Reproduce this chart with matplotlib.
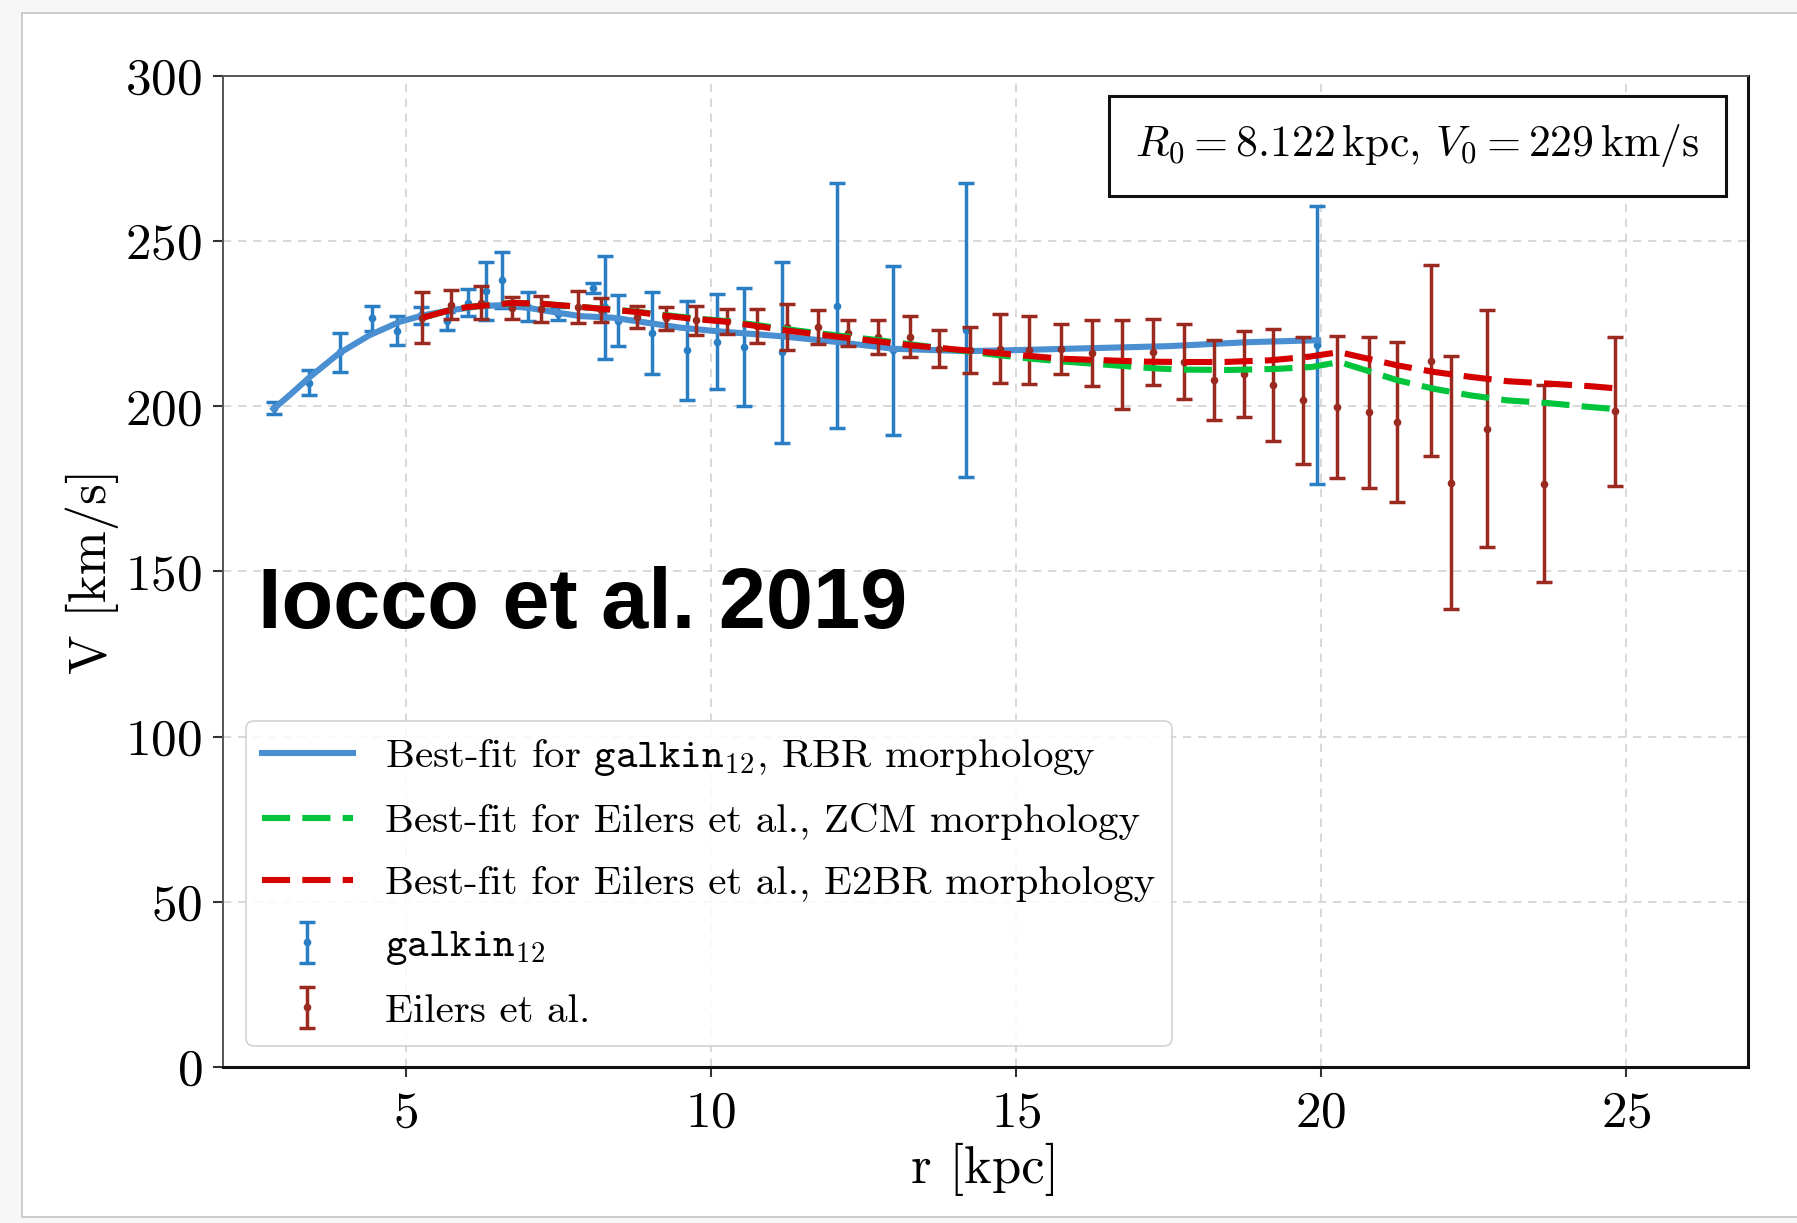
import matplotlib
matplotlib.use("Agg")
import matplotlib.pyplot as plt
from matplotlib.patches import Rectangle

plt.rcParams['font.family'] = 'cmr10'
plt.rcParams['mathtext.fontset'] = 'cm'
plt.rcParams['axes.formatter.use_mathtext'] = True

# galkin_12 compilation
r_galkin = [2.83, 3.41, 3.91, 4.44, 4.85, 5.25, 5.68, 6.01, 6.31, 6.57, 7.00, 7.50,
            8.07, 8.27, 8.48, 9.03, 9.60, 10.10, 10.54, 11.16, 12.07, 12.98, 14.18, 19.94]
v_galkin = [199.5, 207.1, 216.4, 226.7, 222.9, 227.5, 225.8, 231.4, 234.8, 238.2, 230.2, 228.0,
            235.8, 230.0, 225.9, 222.2, 216.9, 219.6, 218.0, 216.4, 230.5, 216.9, 223.0, 218.5]
e_galkin = [1.8, 3.8, 5.9, 3.8, 4.5, 2.5, 2.6, 4.2, 8.8, 8.5, 4.5, 2.0,
            1.5, 15.6, 7.7, 12.5, 15.0, 14.4, 17.8, 27.4, 37.0, 25.7, 44.5, 42.0]

# Eilers et al. rotation curve
r_eilers = [5.27, 5.74, 6.23, 6.73, 7.22, 7.82, 8.19, 8.78, 9.27, 9.76, 10.26, 10.75, 11.25,
            11.75, 12.25, 12.74, 13.26, 13.74, 14.24, 14.74, 15.22, 15.74, 16.24, 16.74, 17.25,
            17.75, 18.24, 18.74, 19.22, 19.71, 20.27, 20.78, 21.24, 21.80, 22.14, 22.73, 23.66, 24.82]
v_eilers = [226.8, 230.8, 231.3, 229.7, 229.5, 230.0, 229.1, 227.0, 226.6, 226.0, 225.8, 224.3, 224.0,
            224.0, 222.2, 221.0, 221.0, 217.4, 217.0, 217.4, 217.0, 217.4, 216.1, 212.7, 216.4,
            213.5, 207.9, 209.8, 206.4, 201.8, 199.8, 198.2, 195.3, 213.8, 176.9, 193.2, 176.6, 198.5]
e_eilers = [7.7, 4.3, 5.0, 3.3, 3.9, 4.9, 3.6, 3.4, 3.5, 4.3, 3.8, 5.2, 7.0,
            5.0, 3.9, 5.2, 6.2, 5.6, 7.0, 10.4, 10.2, 7.6, 10.0, 13.5, 10.0,
            11.3, 12.2, 12.9, 17.0, 19.3, 21.4, 22.9, 24.3, 29.0, 38.2, 35.9, 29.7, 22.6]

# best-fit curves
r_rbr = [2.83, 3.1, 3.4, 3.9, 4.4, 4.9, 5.3, 5.7, 6.2, 6.55, 7.0, 7.4, 7.85, 8.4, 8.95, 9.5,
         10.05, 10.6, 11.15, 12.05, 13.0, 14.2, 15.0, 16.25, 17.5, 18.8, 19.95]
v_rbr = [199.2, 203.5, 208.5, 216.0, 221.5, 225.6, 227.6, 229.0, 230.3, 230.6, 229.8, 228.6,
         227.3, 226.8, 225.3, 223.8, 222.8, 222.0, 221.2, 219.5, 217.4, 216.7, 217.0, 217.6,
         218.2, 219.4, 220.0]

r_e2br = [5.27, 5.7, 6.0, 6.75, 7.25, 7.85, 8.75, 9.25, 9.75, 10.25, 10.75, 11.25, 12.0, 12.75,
          13.25, 14.25, 14.7, 15.25, 15.75, 16.5, 17.15, 17.75, 18.4, 19.15, 19.8, 20.3, 20.65,
          21.25, 21.85, 22.45, 23.05, 23.7, 24.4, 24.85]
v_e2br = [226.8, 229.0, 230.0, 231.3, 231.0, 230.1, 228.6, 227.4, 226.4, 225.6, 224.3, 222.9,
          221.2, 219.6, 218.5, 216.8, 216.1, 215.2, 214.4, 213.9, 213.5, 213.4, 213.4, 213.9,
          215.0, 216.4, 214.9, 212.4, 210.4, 208.9, 207.6, 206.9, 206.1, 205.4]

r_zcm = [5.27, 5.7, 6.0, 6.75, 7.25, 7.85, 8.75, 9.25, 9.75, 10.25, 10.75, 11.25, 12.0, 12.75,
         13.25, 14.25, 14.7, 15.25, 15.75, 16.25, 16.75, 17.25, 17.75, 18.5, 19.25, 19.85, 20.3,
         20.65, 21.25, 21.85, 22.45, 23.05, 23.7, 24.4, 24.85]
v_zcm = [226.8, 229.0, 230.0, 231.3, 231.0, 230.1, 228.7, 227.6, 226.6, 225.8, 224.6, 223.3,
         221.6, 220.0, 218.8, 216.5, 215.5, 214.4, 213.6, 212.9, 212.2, 211.5, 211.1, 211.0,
         211.3, 211.9, 213.4, 211.4, 207.9, 205.3, 203.3, 201.8, 201.0, 199.8, 199.1]

c_galkin = '#2a7fc4'
c_rbr = '#4a8fd2'
c_eilers = '#9a2a1f'
c_zcm = '#00c43c'
c_e2br = '#d40000'

fig = plt.figure(figsize=(17.97, 12.23), dpi=100)
fig.patch.set_facecolor('#f7f7f7')
fig.patches.append(Rectangle((22, 6), 1797, 1204, transform=None, facecolor='white',
                             edgecolor='#c4c4c4', linewidth=1.2, zorder=-10))

ax = fig.add_axes([0.1241, 0.1276, 0.8486, 0.8103])

eb_g = ax.errorbar(r_galkin, v_galkin, yerr=e_galkin, fmt='o', color=c_galkin, ms=4.5,
                   elinewidth=2.5, capsize=5.5, capthick=2.5, zorder=2)
line_rbr, = ax.plot(r_rbr, v_rbr, '-', color=c_rbr, lw=4.4, zorder=3)
eb_e = ax.errorbar(r_eilers, v_eilers, yerr=e_eilers, fmt='o', color=c_eilers, ms=4.5,
                   elinewidth=2.5, capsize=5.5, capthick=2.5, zorder=4)
line_zcm, = ax.plot(r_zcm, v_zcm, '--', color=c_zcm, lw=4.4, dashes=(4.6, 2.0), zorder=5)
line_e2br, = ax.plot(r_e2br, v_e2br, '--', color=c_e2br, lw=4.4, dashes=(4.6, 2.0), zorder=6)

ax.set_xlim(2, 27)
ax.set_ylim(0, 300)
ax.set_xticks([5, 10, 15, 20, 25])
ax.set_yticks([0, 50, 100, 150, 200, 250, 300])
ax.tick_params(axis='both', labelsize=37, length=7, width=1.5, color='#333')
ax.tick_params(axis='x', pad=10)
ax.tick_params(axis='y', pad=8)
ax.grid(True, linestyle=(0, (5, 4)), color='#d2d2d2', linewidth=1.2)
ax.set_axisbelow(True)

for side in ['top', 'left']:
    ax.spines[side].set_color('#555555')
    ax.spines[side].set_linewidth(1.4)
for side in ['bottom', 'right']:
    ax.spines[side].set_color('#111111')
    ax.spines[side].set_linewidth(2.2)

ax.set_xlabel('r [kpc]', fontsize=38)
ax.set_ylabel('V [km/s]', fontsize=38)
ax.xaxis.set_label_coords(0.5, -0.077)
ax.yaxis.set_label_coords(-0.068, 0.5)

ax.text(0.7833, 0.9294, r'$R_0 = 8.122\,\mathrm{kpc}$, $V_0 = 229\,\mathrm{km/s}$',
        transform=ax.transAxes, ha='center', va='center', fontsize=31.5,
        bbox=dict(boxstyle='square,pad=0.6', facecolor='white', edgecolor='#111111',
                  linewidth=2.2))

handles = [line_rbr, line_zcm, line_e2br, eb_g, eb_e]
labels = [r'Best-fit for $\mathtt{galkin}_{12}$, RBR morphology',
          'Best-fit for Eilers et al., ZCM morphology',
          'Best-fit for Eilers et al., E2BR morphology',
          r'$\mathtt{galkin}_{12}$',
          'Eilers et al.']
leg = ax.legend(handles, labels, loc='lower left', bbox_to_anchor=(0.0151, 0.0212),
                borderaxespad=0, fontsize=29.5, handlelength=2.2, handletextpad=0.8,
                labelspacing=0.62, framealpha=0.85, edgecolor='#cccccc', fancybox=True)
leg.get_frame().set_linewidth(1.2)

fig.text(258 / 1797, (1223 - 628) / 1223, 'Iocco et al. 2019', family='Liberation Sans',
         fontweight='bold', fontsize=61, va='baseline', ha='left')

fig.savefig('out.png', dpi=100, facecolor=fig.get_facecolor())
